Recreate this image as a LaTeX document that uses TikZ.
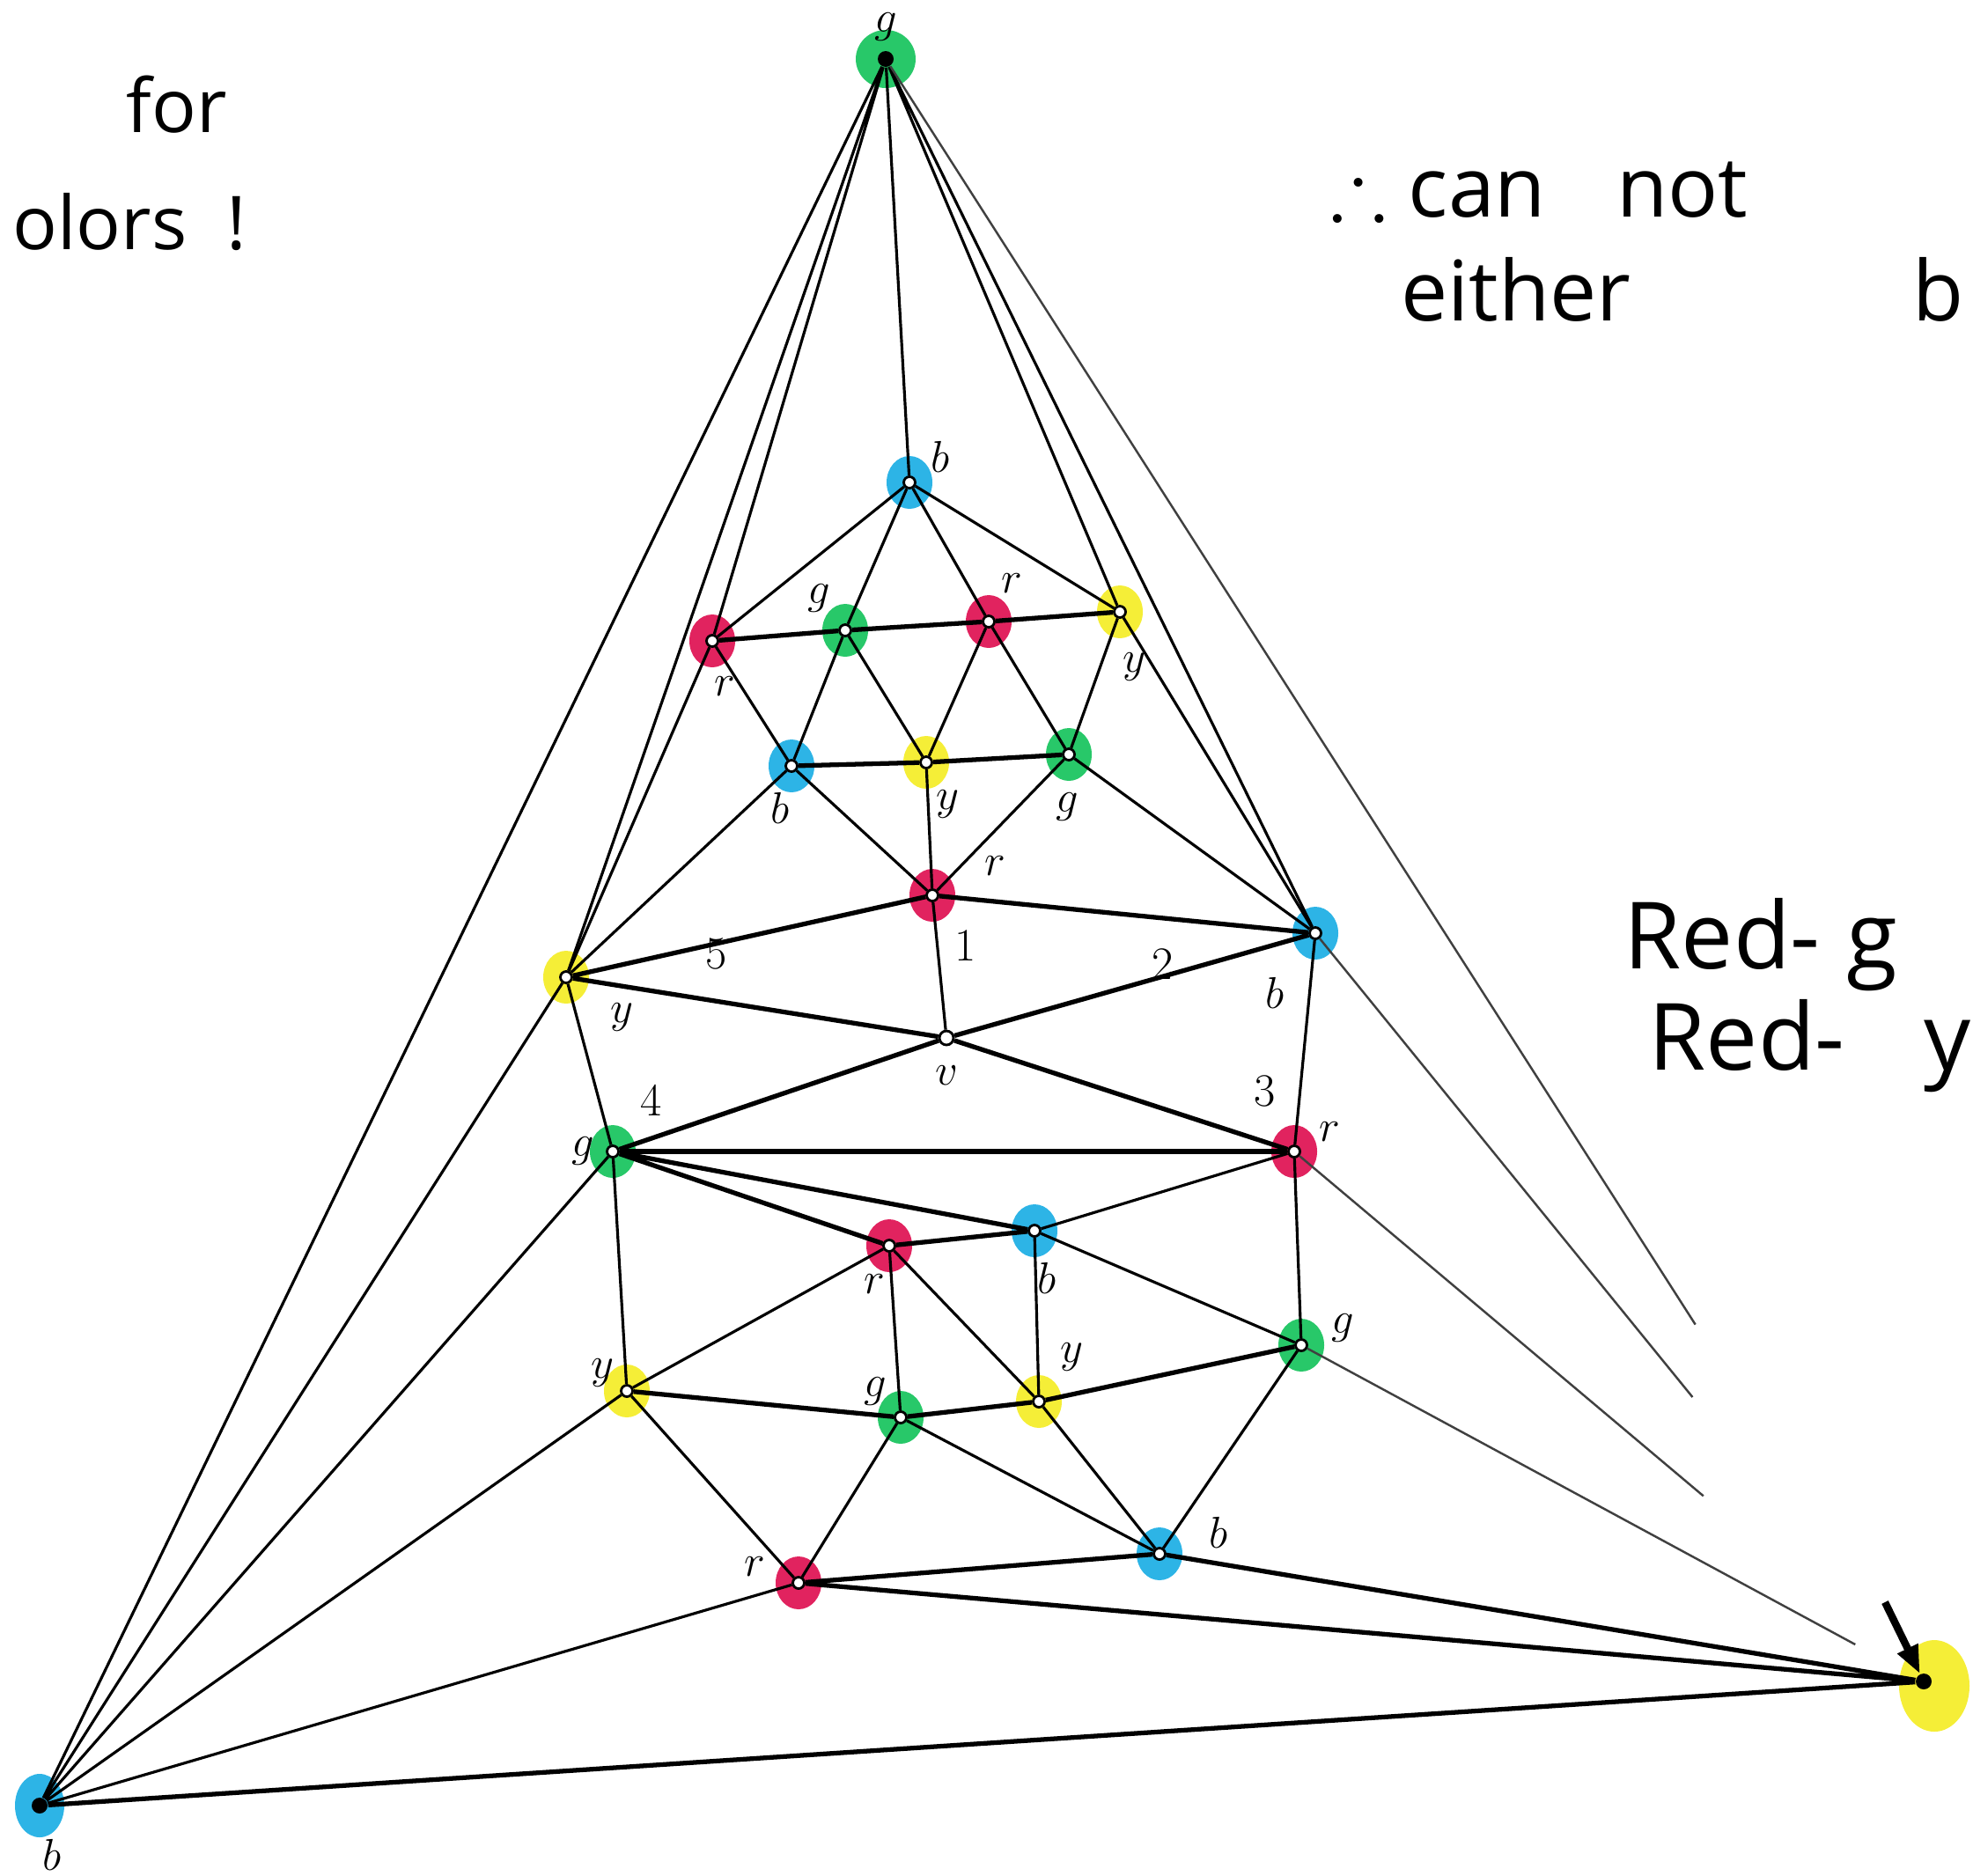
\documentclass[tikz,border=0pt]{standalone}
\usepackage{amssymb}
\usepackage{fontspec}
\newfontfamily\handfont{Open Sans}
\usepackage{tikz}
\usetikzlibrary{arrows.meta, calc, backgrounds}

\definecolor{hlgreen}{RGB}{40,200,105}
\definecolor{hlblue}{RGB}{45,180,230}
\definecolor{hlred}{RGB}{225,35,95}
\definecolor{hlyellow}{RGB}{245,238,55}

\begin{document}
\begin{tikzpicture}[
  x=1cm, y=-1cm,
  vtx/.style={circle, draw, fill=white, line width=0.8pt, inner sep=0pt, minimum size=0.13cm},
  outer/.style={circle, fill=black, inner sep=0pt, minimum size=0.18cm},
  lbl/.style={font=\fontsize{15}{15}\selectfont, inner sep=0pt},
  edge/.style={line width=0.9pt},
  heavy/.style={line width=1.5pt},
  faded/.style={line width=0.7pt, black!75},
  hand/.style={font=\handfont\fontsize{24}{28}\selectfont, inner sep=0pt, anchor=base west},
  bighand/.style={hand, font=\handfont\fontsize{30}{34}\selectfont},
  pointer/.style={-{Triangle[length=0.32cm, width=0.24cm]}, line width=2.4pt},
]
  \useasboundingbox (0,0) rectangle (22.41,21.30);
  \clip (0,0) rectangle (22.41,21.30);

  % outer vertices
  \node[outer, label={[lbl, label distance=0.10cm]90:$g$}] (t) at (10.06,0.67) {};
  \node[outer, label={[lbl, label distance=0.28cm]-86:$b$}] (bl) at (0.45,20.51) {};
  \node[outer] (br) at (21.85,19.10) {};

  % upper part
  \node[vtx, label={[lbl, label distance=0.18cm]25:$b$}] (b1) at (10.33,5.48) {};
  \node[vtx, label={[lbl, label distance=0.32cm]-87:$r$}] (r1) at (8.09,7.28) {};
  \node[vtx, label={[lbl, label distance=0.18cm]130:$g$}] (g1) at (9.60,7.16) {};
  \node[vtx, label={[lbl, label distance=0.27cm]66:$r$}] (r2) at (11.23,7.06) {};
  \node[vtx, label={[lbl, label distance=0.38cm]-86:$y$}] (y1) at (12.72,6.95) {};
  \node[vtx, label={[lbl, label distance=0.22cm]-93:$b$}] (b2) at (8.99,8.70) {};
  \node[vtx, label={[lbl, label distance=0.25cm]-70:$y$}] (y2) at (10.52,8.66) {};
  \node[vtx, label={[lbl, label distance=0.35cm]-92:$g$}] (g2) at (12.14,8.57) {};

  % v and its five neighbours
  \node[vtx, minimum size=0.16cm, label={[lbl, label distance=0.22cm]-90:$v$}] (v) at (10.75,11.79) {};
  \node[vtx, label={[lbl, label distance=0.55cm]20:$r$},
             label={[lbl, label distance=0.38cm]-57:1}] (r3) at (10.59,10.17) {};
  \node[vtx, label={[lbl, label distance=0.53cm]-125:$b$},
             label={[lbl, label distance=1.54cm]186:2}] (b3) at (14.94,10.60) {};
  \node[vtx, label={[lbl, label distance=0.22cm]22:$r$},
             label={[lbl, label distance=0.46cm]112:3}] (r4) at (14.70,13.08) {};
  \node[vtx, label={[lbl, label distance=0.12cm]178:$g$},
             label={[lbl, label distance=0.42cm]52:4}] (g3) at (6.96,13.08) {};
  \node[vtx, label={[lbl, label distance=0.50cm]-30:$y$},
             label={[lbl, label distance=1.50cm]3:5}] (y3) at (6.43,11.10) {};

  % lower part
  \node[vtx, label={[lbl, label distance=0.24cm]-97:$r$}] (r5) at (10.10,14.15) {};
  \node[vtx, label={[lbl, label distance=0.28cm]-85:$b$}] (b4) at (11.75,13.98) {};
  \node[vtx, label={[lbl, label distance=0.26cm]5:$g$}] (g4) at (14.78,15.28) {};
  \node[vtx, label={[lbl, label distance=0.06cm]165:$y$}] (y4) at (7.12,15.80) {};
  \node[vtx, label={[lbl, label distance=0.12cm]140:$g$}] (g5) at (10.23,16.10) {};
  \node[vtx, label={[lbl, label distance=0.34cm]55:$y$}] (y5) at (11.80,15.92) {};
  \node[vtx, label={[lbl, label distance=0.48cm]6:$b$}] (b5) at (13.17,17.65) {};
  \node[vtx, label={[lbl, label distance=0.30cm]169:$r$}] (r6) at (9.07,17.98) {};

  % highlighter marks
  \begin{scope}[on background layer]
    \foreach \n/\c in {b1/hlblue, r1/hlred, g1/hlgreen, r2/hlred, y1/hlyellow,
                       b2/hlblue, y2/hlyellow, g2/hlgreen, r3/hlred, y3/hlyellow,
                       b3/hlblue, g3/hlgreen, r4/hlred, r5/hlred, b4/hlblue,
                       g4/hlgreen, y4/hlyellow, g5/hlgreen, y5/hlyellow,
                       b5/hlblue, r6/hlred}
      \fill[\c] (\n.center) ellipse (0.26 and 0.30);
    \fill[hlgreen] (t.center) ellipse (0.34 and 0.33);
    \fill[hlblue] (bl.center) ellipse (0.28 and 0.36);
    \fill[hlyellow] ([shift={(0.12,0.05)}]br.center) ellipse (0.40 and 0.52);
  \end{scope}

  % upper edges
  \draw[edge] (t) -- (b1);
  \draw[edge] (b1) -- (r1) (b1) -- (g1) (b1) -- (r2) (b1) -- (y1);
  \draw[heavy] (r1) -- (g1) -- (r2) -- (y1);
  \draw[heavy] (b2) -- (y2) -- (g2);
  \draw[edge] (r1) -- (b2) -- (g1) -- (y2) -- (r2) -- (g2) -- (y1);
  \draw[edge] (b2) -- (r3) (y2) -- (r3) (g2) -- (r3);
  \draw[edge] (r1) -- (y3) (b2) -- (y3) (g2) -- (b3) (y1) -- (b3);

  % around v
  \draw[heavy] (y3) -- (r3) -- (b3) -- (v) -- (y3);
  \draw[heavy] (g3) -- (v) -- (r4);
  \draw[edge] (r3) -- (v);
  \draw[edge] (y3) -- (g3) (b3) -- (r4);
  \draw[heavy] (g3) -- (r4);

  % lower edges
  \draw[heavy] (g3) -- (r5) (g3) -- (b4) (r5) -- (b4);
  \draw[edge] (g3) -- (y4) (r4) -- (b4) (r4) -- (g4);
  \draw[edge] (r5) -- (y4) (r5) -- (g5) (r5) -- (y5) (b4) -- (y5) (b4) -- (g4);
  \draw[heavy] (y4) -- (g5) -- (y5) -- (g4);
  \draw[edge] (y4) -- (r6) -- (g5) -- (b5) -- (y5) (g4) -- (b5);
  \draw[heavy] (r6) -- (b5);

  % edges to the outer vertices
  \draw[edge] (t) -- (bl) (t) -- (y3) (t) -- (r1) (t) -- (y1) (t) -- (b3);
  \draw[edge] (bl) -- (y3) (bl) -- (g3) (bl) -- (y4) (bl) -- (r6);
  \draw[heavy] (bl) -- (br) (r6) -- (br) (b5) -- (br);
  \draw[faded] (t) -- ($(t)!0.78!(br)$);
  \draw[faded] (b3) -- ($(b3)!0.62!(br)$);
  \draw[faded] (r4) -- ($(r4)!0.65!(br)$);
  \draw[faded] (g4) -- ($(g4)!0.89!(br)$);

  % handwriting
  \coordinate (hint) at (21.41,18.20);
  \draw[pointer] (hint) -- (br);
  \node[hand] (fortext) at (1.43,1.50) {for};
  \node[hand] (colorstext) at (0.14,2.83) {olors\hspace{0.45cm}!};
  \node[hand, font=\handfont\fontsize{27}{30}\selectfont] (cannot) at (15.11,2.46) {$\therefore$\hspace{0.25cm}can\hspace{0.8cm}not};
  \node[hand, font=\handfont\fontsize{27}{30}\selectfont] (either) at (15.91,3.64) {either\hspace{3.2cm}b};
  \node[bighand] (redg) at (18.44,11.00) {Red-\hspace{0.3cm}g};
  \node[bighand] (redy) at (18.72,12.15) {Red-\hspace{0.9cm}y};
\end{tikzpicture}
\end{document}
